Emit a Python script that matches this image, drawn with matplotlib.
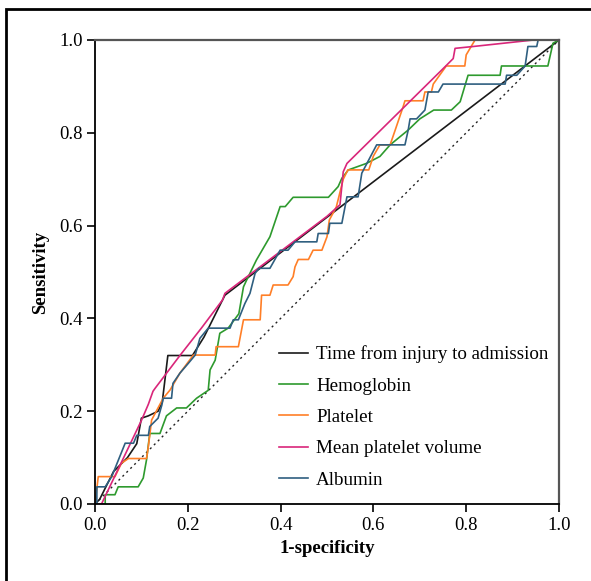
import matplotlib
matplotlib.use('Agg')
import matplotlib.pyplot as plt
from matplotlib.patches import Rectangle

# ROC curve points (1-specificity, sensitivity)
time_fpr = [0, 0.01, 0.02, 0.04, 0.06, 0.07, 0.09, 0.10, 0.115, 0.136, 0.145, 0.157, 0.21, 0.235, 0.26, 0.27, 0.28, 1.0]
time_tpr = [0, 0.01, 0.03, 0.07, 0.09, 0.10, 0.13, 0.185, 0.19, 0.20, 0.22, 0.32, 0.32, 0.36, 0.41, 0.43, 0.45, 1.0]

hb_fpr = [0, 0.022, 0.022, 0.043, 0.05, 0.093, 0.104, 0.111, 0.118, 0.14, 0.154, 0.176, 0.197, 0.219, 0.244, 0.248,
          0.259, 0.269, 0.287, 0.31, 0.32, 0.327, 0.348, 0.377, 0.399, 0.41, 0.427, 0.503, 0.524, 0.532, 0.546,
          0.585, 0.614, 0.636, 0.675, 0.70, 0.73, 0.768, 0.787, 0.804, 0.873, 0.876, 0.976, 0.987, 1.0]
hb_tpr = [0, 0, 0.02, 0.02, 0.037, 0.037, 0.056, 0.095, 0.152, 0.152, 0.19, 0.207, 0.207, 0.228, 0.245, 0.289,
          0.31, 0.368, 0.379, 0.41, 0.468, 0.483, 0.526, 0.576, 0.641, 0.641, 0.661, 0.661, 0.684, 0.702, 0.72,
          0.734, 0.749, 0.774, 0.806, 0.83, 0.849, 0.849, 0.867, 0.924, 0.924, 0.944, 0.944, 0.993, 1.0]

plt_fpr = [0, 0.007, 0.014, 0.043, 0.057, 0.072, 0.111, 0.115, 0.122, 0.147, 0.162, 0.183, 0.212, 0.259, 0.261,
           0.309, 0.32, 0.356, 0.359, 0.377, 0.384, 0.416, 0.427, 0.431, 0.438, 0.46, 0.47, 0.489, 0.50, 0.505,
           0.52, 0.535, 0.545, 0.59, 0.60, 0.614, 0.636, 0.647, 0.664, 0.668, 0.707, 0.711, 0.725, 0.729, 0.757,
           0.797, 0.80, 0.819, 1.0]
plt_tpr = [0, 0.059, 0.059, 0.059, 0.088, 0.098, 0.098, 0.124, 0.181, 0.228, 0.246, 0.282, 0.321, 0.321, 0.339,
           0.339, 0.397, 0.397, 0.45, 0.45, 0.472, 0.472, 0.49, 0.511, 0.527, 0.527, 0.547, 0.547, 0.576, 0.612,
           0.64, 0.70, 0.72, 0.72, 0.75, 0.774, 0.774, 0.806, 0.856, 0.869, 0.869, 0.888, 0.888, 0.905, 0.944,
           0.944, 0.968, 1.0, 1.0]

mpv_fpr = [0, 0.014, 0.10, 0.115, 0.125, 0.13, 0.183, 0.23, 0.275, 0.28, 0.50, 0.528, 0.535, 0.543, 0.754, 0.772,
           0.776, 0.815, 0.945, 1.0]
mpv_tpr = [0, 0, 0.18, 0.215, 0.243, 0.25, 0.32, 0.38, 0.44, 0.454, 0.62, 0.645, 0.716, 0.734, 0.942, 0.96,
           0.982, 0.986, 1.0, 1.0]

alb_fpr = [0, 0.004, 0.004, 0.022, 0.036, 0.065, 0.083, 0.09, 0.115, 0.118, 0.136, 0.144, 0.147, 0.165, 0.168,
           0.183, 0.201, 0.216, 0.226, 0.244, 0.291, 0.298, 0.309, 0.323, 0.334, 0.345, 0.353, 0.377, 0.399,
           0.416, 0.431, 0.478, 0.481, 0.503, 0.506, 0.532, 0.543, 0.567, 0.575, 0.607, 0.668, 0.675, 0.679,
           0.693, 0.711, 0.718, 0.74, 0.75, 0.884, 0.887, 0.909, 0.927, 0.933, 0.952, 0.955, 1.0]
alb_tpr = [0, 0, 0.037, 0.037, 0.059, 0.131, 0.131, 0.148, 0.148, 0.167, 0.185, 0.213, 0.228, 0.228, 0.26,
           0.282, 0.303, 0.321, 0.357, 0.379, 0.379, 0.397, 0.397, 0.432, 0.454, 0.497, 0.508, 0.508, 0.547,
           0.547, 0.565, 0.565, 0.583, 0.583, 0.605, 0.605, 0.662, 0.662, 0.713, 0.774, 0.774, 0.806, 0.83,
           0.83, 0.849, 0.888, 0.888, 0.905, 0.905, 0.924, 0.924, 0.944, 0.986, 0.986, 1.0, 1.0]

labels = ['Time from injury to admission', 'Hemoglobin', 'Platelet', 'Mean platelet volume', 'Albumin']
colors = ['#1a1a1a', '#2e9a2e', '#ff7f27', '#d9267a', '#2f5f80']
ticks = [0.0, 0.2, 0.4, 0.6, 0.8, 1.0]

plt.rcParams['font.family'] = ['Liberation Serif', 'DejaVu Serif']

fig = plt.figure(figsize=(5.91, 5.81), dpi=100)
ax = fig.add_axes([95 / 591, 77 / 581, 464 / 591, 464 / 581])

ax.plot([0, 1], [0, 1], color='#222222', linestyle=(0, (1.5, 2.5)), linewidth=1.0)

curves = [(time_fpr, time_tpr), (hb_fpr, hb_tpr), (plt_fpr, plt_tpr), (mpv_fpr, mpv_tpr), (alb_fpr, alb_tpr)]
for (fx, fy), lab, col in zip(curves, labels, colors):
    ax.plot(fx, fy, color=col, linewidth=1.2, label=lab)

ax.set_xlim(0, 1)
ax.set_ylim(0, 1)
ax.set_xticks(ticks)
ax.set_yticks(ticks)
ax.set_xticklabels([f'{t:.1f}' for t in ticks], fontsize=13.5)
ax.set_yticklabels([f'{t:.1f}' for t in ticks], fontsize=13.5)
ax.tick_params(direction='out', length=6, width=1.2, color='black', pad=3)

for s in ['left', 'bottom']:
    ax.spines[s].set_color('black')
    ax.spines[s].set_linewidth(1.3)
for s in ['top', 'right']:
    ax.spines[s].set_color('#555555')
    ax.spines[s].set_linewidth(1.6)

ax.set_xlabel('1-specificity', fontsize=13.5, fontweight='bold', labelpad=5)
ax.set_ylabel('Sensitivity', fontsize=13.5, fontweight='bold', labelpad=7)

ax.legend(loc='upper left', bbox_to_anchor=(0.397, 0.342), frameon=False, fontsize=13.7,
          handlelength=1.5, handletextpad=0.45, labelspacing=0.74, borderaxespad=0, borderpad=0)

# outer frame around the figure
fig.patches.append(Rectangle((6 / 591, -0.1), 1.2, 1.1 - 9 / 581, transform=fig.transFigure,
                             fill=False, edgecolor='black', linewidth=2.0))

fig.savefig('out.png', dpi=100)
